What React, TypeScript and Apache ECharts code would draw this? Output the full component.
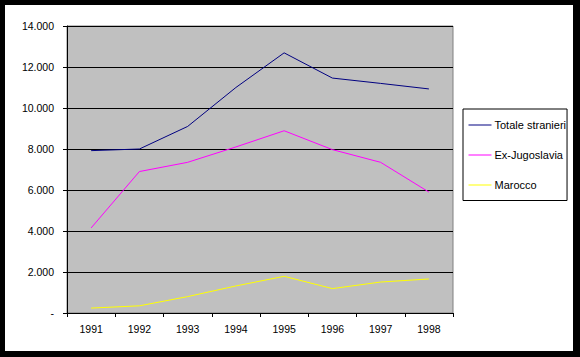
import React, { useEffect, useRef } from "react";
import * as echarts from "echarts";

const years = ["1991", "1992", "1993", "1994", "1995", "1996", "1997", "1998"];
const totaleStranieri = [7920, 8000, 9100, 11000, 12690, 11460, 11200, 10930];
const exJugoslavia = [4150, 6900, 7350, 8100, 8890, 7970, 7350, 5900];
const marocco = [240, 350, 800, 1320, 1790, 1190, 1510, 1660];
const yTicks = { min: 0, max: 14000, interval: 2000 };

const FONT = 'Arial, "Liberation Sans", sans-serif';

export default function App() {
  const ref = useRef<HTMLDivElement>(null);
  useEffect(() => {
    document.body.style.margin = "0";
    const chart = echarts.init(ref.current!, null, { renderer: "svg" });
    chart.setOption({
      animation: false,
      backgroundColor: "#fff",
      textStyle: { fontFamily: FONT },
      grid: {
        left: 62,
        top: 21,
        width: 386,
        height: 287,
        show: true,
        backgroundColor: "#C0C0C0",
        borderColor: "#808080",
        borderWidth: 1,
        containLabel: false,
      },
      legend: {
        orient: "vertical",
        left: 458,
        top: 104,
        backgroundColor: "#fff",
        borderColor: "#000",
        borderWidth: 1,
        padding: [10.5, 1, 10, 5.5],
        itemWidth: 23,
        itemHeight: 12,
        itemGap: 19,
        icon: "path://M0,0L23,0L23,1L0,1Z",
        symbolKeepAspect: true,
        textStyle: { fontSize: 11, color: "#000", fontFamily: FONT, padding: [0, 0, 0, -2] },
        data: ["Totale stranieri", "Ex-Jugoslavia", "Marocco"],
      },
      xAxis: {
        type: "category",
        data: years,
        boundaryGap: true,
        axisLine: { show: true, lineStyle: { color: "#000", width: 1 } },
        axisTick: { show: true, length: 4, lineStyle: { color: "#000" } },
        axisLabel: { color: "#000", fontSize: 10.5, margin: 10, fontFamily: FONT },
        splitLine: { show: false },
      },
      yAxis: {
        type: "value",
        min: yTicks.min,
        max: yTicks.max,
        interval: yTicks.interval,
        axisLine: { show: true, lineStyle: { color: "#000", width: 1 } },
        axisTick: { show: true, length: 4, lineStyle: { color: "#000" } },
        axisLabel: {
          color: "#000",
          fontSize: 10.5,
          margin: 13,
          fontFamily: FONT,
          formatter: (v: number) =>
            v === 0 ? "-" : String(v).replace(/\B(?=(\d{3})+(?!\d))/g, "."),
        },
        splitLine: { show: true, lineStyle: { color: "#000", width: 1 } },
      },
      series: [
        { name: "Totale stranieri", type: "line", data: totaleStranieri, symbol: "none", lineStyle: { color: "#000080", width: 1 }, itemStyle: { color: "#000080" } },
        { name: "Ex-Jugoslavia", type: "line", data: exJugoslavia, symbol: "none", lineStyle: { color: "#FF00FF", width: 1 }, itemStyle: { color: "#FF00FF" } },
        { name: "Marocco", type: "line", data: marocco, symbol: "none", lineStyle: { color: "#FFFF00", width: 1 }, itemStyle: { color: "#FFFF00" } },
      ],
    });
    return () => chart.dispose();
  }, []);
  return (
    <div style={{ position: "relative", width: 580, height: 357, background: "#000" }}>
      <div ref={ref} style={{ position: "absolute", left: 5, top: 5, width: 568, height: 346 }} />
    </div>
  );
}
